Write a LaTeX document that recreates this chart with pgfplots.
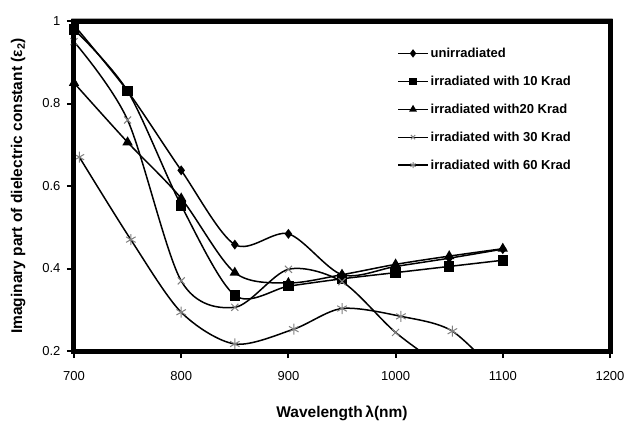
\documentclass[border=0pt]{standalone}
\usepackage{fontspec}
\setmainfont{Liberation Sans}
\usepackage{pgfplots}
\pgfplotsset{compat=1.18}
\begin{document}
\begin{tikzpicture}
\begin{axis}[
 name=ax,
 scale only axis, width=536pt, height=330pt,
 xmin=700, xmax=1200, ymin=0.2, ymax=1,
 xtick={700,800,...,1200}, ytick={0.2,0.4,0.6,0.8,1},
 clip mode=individual,
 axis background/.style={draw=black, line width=5pt},
 tick align=outside, tick pos=left, major tick length=7pt,
 tick style={line width=2pt, black},
 /pgf/number format/assume math mode=true,
 /pgf/number format/1000 sep={},
 ticklabel style={font=\fontsize{13}{13}\selectfont},
 xticklabel style={yshift=-10pt},
 yticklabel style={xshift=-3pt},
 xlabel={Wavelength\,λ(nm)},
 ylabel={Imaginary part of dielectric constant (ε\textsubscript{2})},
 label style={font=\bfseries\fontsize{15.5}{15.5}\selectfont},
 xlabel style={at={(axis description cs:0.5,-0.19)}, anchor=center},
 ylabel style={at={(axis description cs:-0.104,0.5)}, anchor=center},
 legend style={at={(axis description cs:0.603,0.925)}, anchor=north west, draw=none, fill=none,
   font=\bfseries\fontsize{13}{13}\selectfont, row sep=13pt, inner sep=0pt},
 legend cell align=left,
 legend image code/.code={\draw[#1,mark=none,line width=1.3pt] (0pt,0pt)--(30pt,0pt);
   \path[#1, sharp plot, mark size=3pt] plot coordinates {(15pt,0pt)};},
 every axis plot/.append style={line width=1.5pt, black, smooth, tension=0.5},
]
\addplot[mark=diamond*, mark size=3.8pt, mark options={solid,fill=black}] coordinates {
 (700,0.99)(750,0.83)(800,0.638)(850,0.458)(900,0.484)(950,0.385)(1000,0.405)(1050,0.425)(1100,0.447)};
\addlegendentry{unirradiated}
\addplot[mark=square*, mark size=4.5pt, mark options={solid,fill=black}] coordinates {
 (700,0.98)(750,0.83)(800,0.553)(850,0.335)(900,0.357)(950,0.375)(1000,0.39)(1050,0.405)(1100,0.42)};
\addlegendentry{irradiated with 10 Krad}
\addplot[mark=triangle*, mark size=4.5pt, mark options={solid,fill=black}] coordinates {
 (700,0.85)(750,0.706)(800,0.57)(850,0.39)(900,0.365)(950,0.385)(1000,0.41)(1050,0.43)(1100,0.448)};
\addlegendentry{irradiated with20 Krad}
\addplot[mark=x, mark size=5pt, mark options={solid,draw=gray,line width=1pt}, mark indices={1,...,7}] coordinates {
 (700,0.95)(750,0.76)(800,0.37)(850,0.306)(900,0.398)(950,0.368)(1000,0.245)(1050,0.15)};
\addlegendentry{irradiated with 30 Krad}
\addplot[mark=asterisk, mark size=5.5pt, mark options={solid,draw=gray,line width=1pt}, mark indices={1,...,8}] coordinates {
 (705,0.67)(753,0.47)(800,0.294)(850,0.217)(905,0.253)(950,0.303)(1005,0.284)(1053,0.248)(1100,0.13)};
\addlegendentry{irradiated with 60 Krad}
\fill[black, even odd rule]
  ([shift={(-2.5pt,-2.5pt)}]rel axis cs:0,0) rectangle ([shift={(2.5pt,2.5pt)}]rel axis cs:1,1)
  ([shift={(2pt,2pt)}]rel axis cs:0,0) rectangle ([shift={(-2pt,-2pt)}]rel axis cs:1,1);
\end{axis}
\pgfresetboundingbox
\path[use as bounding box] ([shift={(-74pt,-72pt)}]ax.south west) rectangle ([shift={(552pt,351pt)}]ax.south west);
\end{tikzpicture}
\end{document}
